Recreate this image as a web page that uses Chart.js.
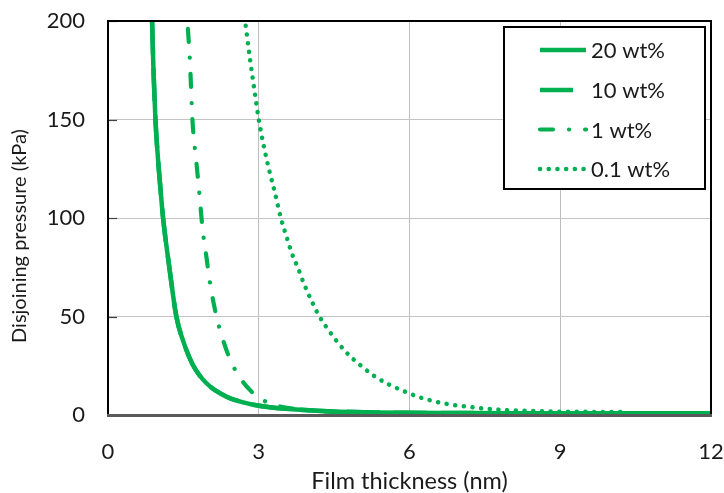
<!DOCTYPE html>
<html><head><meta charset="utf-8">
<script src="https://cdn.jsdelivr.net/npm/chart.js@4.4.1/dist/chart.umd.min.js"></script>
<style>html,body{margin:0;padding:0;background:#fff}</style>
</head><body>
<canvas id="c" width="724" height="493"></canvas>
<script>
const seriesLabels = ['20 wt%', '10 wt%', '1 wt%', '0.1 wt%'];
const xTicks = [0, 3, 6, 9, 12];
const yTicks = [0, 50, 100, 150, 200];
const xTitle = 'Film thickness (nm)';
const yTitle = 'Disjoining pressure (kPa)';

const thickness20 = [0.877, 0.905, 0.944, 0.995, 1.05, 1.096, 1.215, 1.36, 1.49, 1.69, 1.96, 2.36, 2.82, 3.42, 4.15, 4.62, 5.3, 6.0, 7.0, 8.0, 9.0, 10.0, 11.0, 12.0];
const pressure20  = [200, 175, 150, 130, 113, 100, 76, 50, 38, 25.4, 16.1, 9.3, 5.6, 3.4, 2.2, 1.7, 1.3, 1.1, 1.0, 0.9, 0.85, 0.85, 0.85, 0.85];
const thickness10 = [0.877, 0.905, 0.944, 0.995, 1.05, 1.096, 1.215, 1.36, 1.49, 1.69, 1.96, 2.36, 2.82, 3.42, 4.15, 4.62, 5.3, 6.0, 7.0, 8.0, 9.0, 10.0, 11.0, 12.0];
const pressure10  = [200, 175, 150, 130, 113, 100, 76, 50, 38, 25.4, 16.1, 9.3, 5.6, 3.4, 2.2, 1.7, 1.3, 1.1, 1.0, 0.9, 0.85, 0.85, 0.85, 0.85];
const thickness1  = [1.59, 1.63, 1.68, 1.76, 1.82, 1.88, 1.96, 2.03, 2.15, 2.29, 2.45, 2.68, 2.85, 3.05, 3.41, 3.75, 4.2, 4.8, 5.5, 6.5];
const pressure1   = [196, 180, 150, 128, 112, 95, 80, 67, 51, 38, 27, 17, 12, 8, 4.4, 3.0, 2.0, 1.4, 1.0, 0.9];
const thickness01 = [2.74, 2.83, 2.93, 3.0, 3.10, 3.21, 3.32, 3.44, 3.56, 3.66, 3.79, 3.91, 4.05, 4.20, 4.38, 4.58, 4.80, 5.05, 5.31, 5.59, 5.89, 6.19, 6.50, 6.81, 7.14, 7.48, 8.0, 8.5, 9.0, 9.5, 10.2];
const pressure01  = [197.6, 180, 162, 150, 136.5, 124, 113, 100, 90, 82, 74, 66, 58, 50.3, 43.4, 36.6, 30.3, 24.7, 19.6, 15.5, 12.1, 9.1, 6.9, 5.35, 4.3, 3.3, 2.4, 2.0, 1.7, 1.6, 1.5];

const GREEN = '#00b050';
const FONT = 'Lato';
const TXT = '#1a1a1a';
const pts = (xs, ys) => xs.map((x, i) => ({ x: x, y: ys[i] }));

const base = { borderColor: GREEN, backgroundColor: GREEN, pointRadius: 0, fill: false, cubicInterpolationMode: 'monotone' };
const datasets = [
  Object.assign({}, base, { label: seriesLabels[0], data: pts(thickness20, pressure20), borderWidth: 4.5, borderCapStyle: 'butt', borderDash: [] }),
  Object.assign({}, base, { label: seriesLabels[1], data: pts(thickness10, pressure10), borderWidth: 4.5, borderCapStyle: 'butt', borderDash: [33, 14] }),
  Object.assign({}, base, { label: seriesLabels[2], data: pts(thickness1, pressure1), borderWidth: 4.2, borderCapStyle: 'round', borderDash: [13, 16, 0.1, 16] }),
  Object.assign({}, base, { label: seriesLabels[3], data: pts(thickness01, pressure01), borderWidth: 4.5, borderCapStyle: 'round', borderDash: [0.1, 8.6] })
];

const decor = {
  id: 'decor',
  afterDatasetsDraw(chart) {
    const ctx = chart.ctx, a = chart.chartArea;
    const ys = chart.scales.y;
    ctx.save();
    ctx.strokeStyle = '#404040'; ctx.lineWidth = 1.2;
    yTicks.forEach(v => { const p = Math.round(ys.getPixelForValue(v)) + 0.5; ctx.beginPath(); ctx.moveTo(a.left, p); ctx.lineTo(a.left + 9, p); ctx.stroke(); });
    ctx.strokeStyle = '#000'; ctx.lineWidth = 2;
    ctx.beginPath(); ctx.moveTo(a.left, a.bottom); ctx.lineTo(a.left, a.top); ctx.lineTo(a.right, a.top); ctx.lineTo(a.right, a.bottom); ctx.stroke();
    ctx.strokeStyle = '#5a5a5a'; ctx.lineWidth = 3;
    ctx.beginPath(); ctx.moveTo(a.left - 1, a.bottom + 0.5); ctx.lineTo(a.right + 1, a.bottom + 0.5); ctx.stroke();
    ctx.fillStyle = TXT;
    ctx.textAlign = 'center'; ctx.textBaseline = 'middle';
    ctx.font = '23.5px ' + FONT;
    ctx.fillText(xTitle, (a.left + a.right) / 2, 481);
    ctx.font = '20px ' + FONT;
    ctx.save(); ctx.translate(20, 236); ctx.rotate(-Math.PI / 2); ctx.fillText(yTitle, 0, 0); ctx.restore();
    const lx = a.right - 207, ly = a.top + 6, lw = 201, lh = 162;
    ctx.fillStyle = '#fff'; ctx.fillRect(lx, ly, lw, lh);
    ctx.strokeStyle = '#000'; ctx.lineWidth = 2; ctx.strokeRect(lx, ly, lw, lh);
    const rows = [50, 90, 129.5, 169];
    chart.data.datasets.forEach((ds, i) => {
      const y = rows[i];
      ctx.save();
      ctx.strokeStyle = ds.borderColor; ctx.lineWidth = ds.borderWidth; ctx.lineCap = ds.borderCapStyle;
      ctx.setLineDash(ds.borderDash || []);
      ctx.beginPath(); ctx.moveTo(lx + 36, y); ctx.lineTo(lx + 82, y); ctx.stroke();
      ctx.restore();
      ctx.fillStyle = TXT; ctx.font = '22px ' + FONT; ctx.textAlign = 'left'; ctx.textBaseline = 'middle';
      ctx.fillText(ds.label, lx + 87, y + 1);
    });
    ctx.restore();
  }
};

const zeroPad = s => { s.paddingLeft = 0; s.paddingRight = 0; s.paddingTop = 0; s.paddingBottom = 0; };

new Chart(document.getElementById('c'), {
  type: 'line',
  data: { datasets: datasets },
  options: {
    responsive: false, animation: false, devicePixelRatio: 1,
    layout: { padding: { top: 21, right: 13, left: 0, bottom: 0 } },
    plugins: { legend: { display: false }, tooltip: { enabled: false } },
    scales: {
      x: {
        type: 'linear', min: 0, max: 12,
        afterBuildTicks: s => { s.ticks = xTicks.map(v => ({ value: v })); },
        afterFit: s => { s.height = 78; zeroPad(s); },
        grid: { color: '#bdbdbd', lineWidth: 1, drawTicks: false },
        border: { display: false },
        ticks: { color: TXT, font: { family: FONT, size: 22 }, padding: 24, maxRotation: 0 }
      },
      y: {
        type: 'linear', min: 0, max: 200,
        afterBuildTicks: s => { s.ticks = yTicks.map(v => ({ value: v })); },
        afterFit: s => { s.width = 108; zeroPad(s); },
        grid: { color: '#c4c4c4', lineWidth: 1, drawTicks: false },
        border: { display: false },
        ticks: { color: TXT, font: { family: FONT, size: 22 }, padding: 23 }
      }
    }
  },
  plugins: [decor]
});
</script>
</body></html>
